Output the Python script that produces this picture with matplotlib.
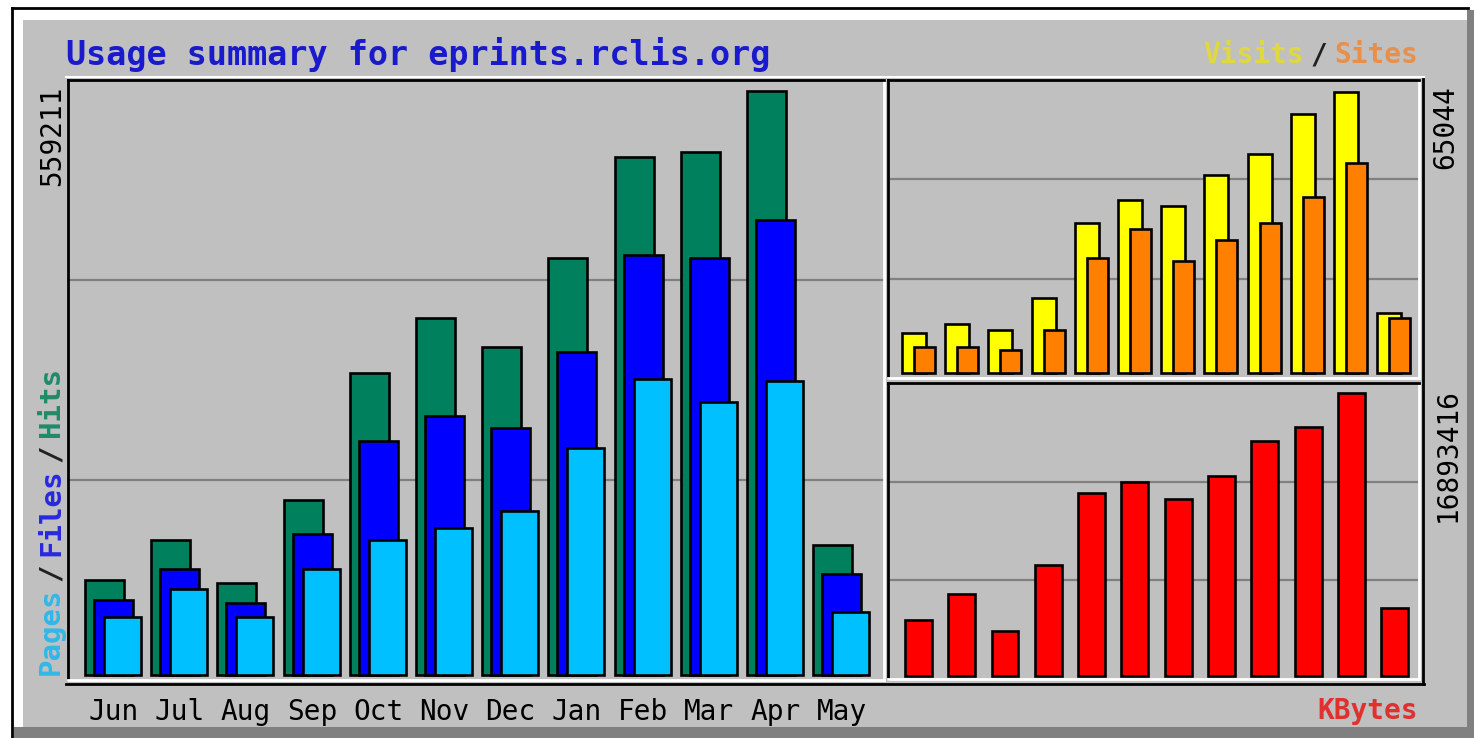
import matplotlib
matplotlib.use("Agg")
import matplotlib.pyplot as plt
from matplotlib.patches import Rectangle
from matplotlib.lines import Line2D

# ---------------- data ----------------
months = ["Jun", "Jul", "Aug", "Sep", "Oct", "Nov", "Dec", "Jan", "Feb", "Mar", "Apr", "May"]
hits = [91000, 129300, 88100, 167600, 289200, 341900, 314100, 399300, 496000, 500800, 559211, 124500]
files = [71800, 101500, 68900, 135000, 224100, 248000, 236500, 309300, 402200, 399300, 435700, 96700]
pages = [55500, 82400, 55500, 101500, 129300, 140800, 157000, 217400, 283500, 261400, 281500, 60300]
visits = [9260, 11340, 9950, 17360, 34720, 40050, 38660, 45840, 50700, 59960, 65044, 13890]
sites = [6020, 6020, 5320, 9950, 26620, 33340, 25930, 30790, 34720, 40740, 48620, 12730]
kbytes = [3342900, 4894900, 2686200, 6626000, 10924000, 11580600, 10565800,
          11938800, 14028100, 14863800, 16893416, 4059200]

# ---------------- style ----------------
C_HITS, C_FILES, C_PAGES = "#00805c", "#0000ff", "#00c0ff"
C_VISITS, C_SITES, C_KB = "#ffff00", "#ff8000", "#ff0000"
BG = "#c0c0c0"
GRID = "#808080"
MONO = "DejaVu Sans Mono"

W, H = 1474, 738
fig = plt.figure(figsize=(W / 100, H / 100), dpi=100)
fig.patch.set_facecolor("white")


def fx(px):
    return px / W


def fy(py):
    return 1 - py / H


def add_ax(l, t, r, b):
    ax = fig.add_axes([fx(l), fy(b), (r - l) / W, (b - t) / H])
    ax.set_facecolor(BG)
    for s in ("top", "left"):
        ax.spines[s].set_color("black")
        ax.spines[s].set_linewidth(2)
    for s in ("bottom", "right"):
        ax.spines[s].set_color("white")
        ax.spines[s].set_linewidth(2)
    ax.set_yticks([])
    ax.tick_params(axis="x", length=0)
    for f in (1 / 3, 2 / 3):
        ax.plot([0, 1], [f, f], transform=ax.transAxes, color=GRID, lw=1.6, zorder=1)
    return ax


# frame of the image
fig.add_artist(Rectangle((fx(23), fy(727)), (1467 - 23) / W, (727 - 20) / H,
                         transform=fig.transFigure, facecolor=BG, edgecolor="none", zorder=0))
fig.add_artist(Rectangle((fx(1467), fy(738)), 7 / W, (738 - 10) / H,
                         transform=fig.transFigure, facecolor="#808080", edgecolor="none", zorder=0))
fig.add_artist(Rectangle((fx(14), fy(738)), (1474 - 14) / W, 11 / H,
                         transform=fig.transFigure, facecolor="#808080", edgecolor="none", zorder=0))
fig.add_artist(Line2D([fx(12), fx(1468)], [fy(8), fy(8)], color="black", lw=2))
fig.add_artist(Line2D([fx(12), fx(12)], [fy(8), fy(738)], color="black", lw=2))

# ---------------- main panel: hits / files / pages ----------------
ax = add_ax(68, 80, 884, 680)
x = list(range(len(months)))
unit = max(hits) / (675 - 91)
ax.set_ylim(-5 * unit, max(hits) + 11 * unit)
ax.set_xlim(-0.257, 12.07)
kw = dict(align="edge", edgecolor="black", linewidth=1.9, zorder=3)
ax.bar(x, hits, width=0.59, color=C_HITS, **kw)
ax.bar([i + 0.136 for i in x], files, width=0.59, color=C_FILES, **kw)
ax.bar([i + 0.287 for i in x], pages, width=0.56, color=C_PAGES, **kw)
ax.set_xticks([i + 0.43 for i in x])
ax.set_xticklabels(months, fontsize=20, family=MONO, color="black")
ax.tick_params(axis="x", pad=13)

# ---------------- visits / sites panel ----------------
ax2 = add_ax(888, 80, 1419, 378)
unit2 = max(visits) / (373 - 92)
ax2.set_ylim(-5 * unit2, max(visits) + 12 * unit2)
ax2.set_xlim(-0.324, 11.97)
ax2.bar(x, visits, width=0.556, color=C_VISITS, **kw)
ax2.bar([i + 0.278 for i in x], sites, width=0.486, color=C_SITES, **kw)
ax2.set_xticks([])

# ---------------- kbytes panel ----------------
ax3 = add_ax(888, 383, 1419, 679)
unit3 = max(kbytes) / (676 - 393)
ax3.set_ylim(-3 * unit3, max(kbytes) + 10 * unit3)
ax3.set_xlim(-0.39, 11.87)
ax3.bar(x, kbytes, width=0.62, color=C_KB, **kw)
ax3.set_xticks([])

# outer box lines
fig.add_artist(Line2D([fx(66), fx(1424)], [fy(684), fy(684)], color="black", lw=2))
fig.add_artist(Line2D([fx(1423), fx(1423)], [fy(77), fy(684)], color="black", lw=2))
fig.add_artist(Line2D([fx(66), fx(1424)], [fy(77), fy(77)], color="white", lw=1.5))

# ---------------- texts ----------------
fig.text(fx(66), fy(65), "Usage summary for eprints.rclis.org", fontsize=24,
         family=MONO, weight="bold", color="#1a1acd", ha="left", va="baseline")

# Visits / Sites (right aligned)
ts = fig.text(fx(1418), fy(69), "Sites", fontsize=20, family=MONO, weight="bold",
              color="#e8904a", ha="right", va="bottom")
tsl = plt.annotate("/", xy=(0, 0), xycoords=ts, xytext=(-5, 0), textcoords="offset points",
                   fontsize=20, family=MONO, weight="bold", color="#202020", ha="right", va="bottom")
plt.annotate("Visits", xy=(0, 0), xycoords=tsl, xytext=(-5, 0), textcoords="offset points",
             fontsize=20, family=MONO, weight="bold", color="#e0d840", ha="right", va="bottom")

# KBytes
fig.text(fx(1418), fy(719), "KBytes", fontsize=20, family=MONO, weight="bold",
         color="#e03030", ha="right", va="baseline")

# Pages / Files / Hits rotated
lkw = dict(fontsize=21, family=MONO, weight="bold", rotation=90)
tp = fig.text(fx(51), fy(675), "Pages", color="#30b8e8", ha="center", va="bottom", **lkw)
t1 = plt.annotate("/", xy=(0.5, 1), xycoords=tp, xytext=(0, 5), textcoords="offset points",
                  color="#202020", ha="center", va="bottom", **lkw)
tf = plt.annotate("Files", xy=(0.5, 1), xycoords=t1, xytext=(0, 5), textcoords="offset points",
                  color="#2828e0", ha="center", va="bottom", **lkw)
t2 = plt.annotate("/", xy=(0.5, 1), xycoords=tf, xytext=(0, 5), textcoords="offset points",
                  color="#202020", ha="center", va="bottom", **lkw)
plt.annotate("Hits", xy=(0.5, 1), xycoords=t2, xytext=(0, 5), textcoords="offset points",
             color="#208a68", ha="center", va="bottom", **lkw)

# scale maxima
fig.text(fx(52), fy(85), str(max(hits)), fontsize=20, family=MONO, rotation=90,
         ha="center", va="top", color="black")
fig.text(fx(1445), fy(85), str(max(visits)), fontsize=20, family=MONO, rotation=90,
         ha="center", va="top", color="black")
fig.text(fx(1448), fy(388), str(max(kbytes)), fontsize=20, family=MONO, rotation=90,
         ha="center", va="top", color="black")

fig.savefig("out.png", dpi=100, facecolor=fig.get_facecolor())
